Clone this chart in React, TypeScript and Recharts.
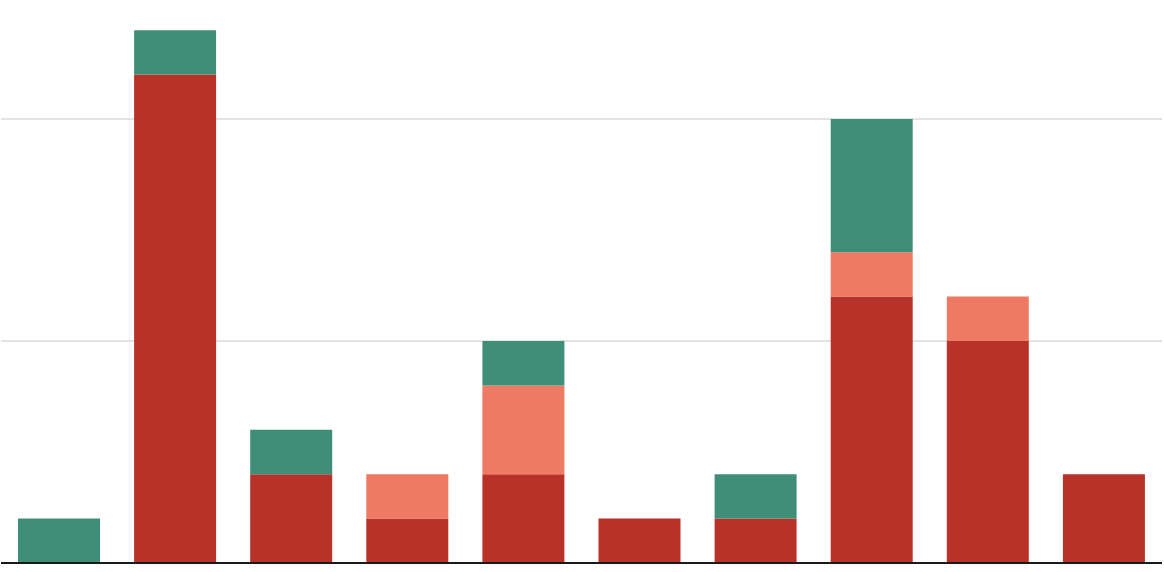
import { BarChart, Bar, XAxis, YAxis, CartesianGrid, ReferenceLine } from 'recharts';

// ten categories, stacked: dark red at the bottom, salmon in the middle, green on top
const categories = ['A', 'B', 'C', 'D', 'E', 'F', 'G', 'H', 'I', 'J'];
const redValues = [0, 11, 2, 1, 2, 1, 1, 6, 5, 2];
const salmonValues = [0, 0, 0, 1, 2, 0, 0, 1, 1, 0];
const greenValues = [1, 1, 1, 0, 1, 0, 1, 3, 0, 0];
const yTicks = [0, 5, 10];
const gridValues = [5, 10];

const data = categories.map((name, i) => ({
    name,
    red: redValues[i],
    salmon: salmonValues[i],
    green: greenValues[i],
}));

export default function App() {
    return (
        <div style={{ position: 'absolute', left: 0, top: 0, width: 1164, height: 572, background: '#fff' }}>
            <BarChart
                width={1164}
                height={572}
                data={data}
                margin={{ top: 0, right: 2, left: 1, bottom: 9 }}
                barSize={82}
            >
                <CartesianGrid vertical={false} horizontalValues={gridValues} stroke="#e3e3e3" strokeWidth={2} />
                <XAxis dataKey="name" hide />
                <YAxis hide domain={[0, 12.68]} ticks={yTicks} allowDataOverflow />
                <Bar dataKey="red" stackId="s" fill="#b83229" isAnimationActive={false} />
                <Bar dataKey="salmon" stackId="s" fill="#ee7a63" isAnimationActive={false} />
                <Bar dataKey="green" stackId="s" fill="#3f8f78" isAnimationActive={false} />
                <ReferenceLine y={0} stroke="#1a1a1a" strokeWidth={2} ifOverflow="extendDomain" />
            </BarChart>
        </div>
    );
}
